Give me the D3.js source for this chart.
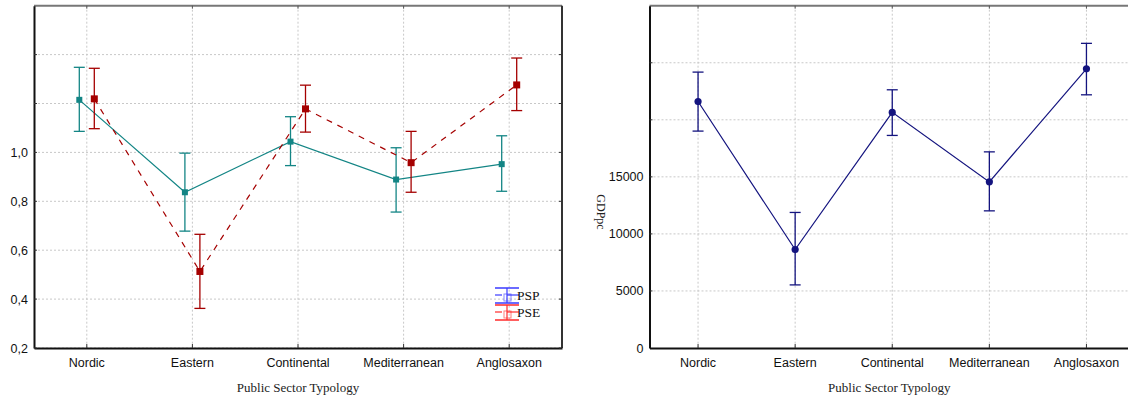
<!DOCTYPE html>
<html>
<head>
<meta charset="utf-8">
<script src="https://cdn.jsdelivr.net/npm/d3@7"></script>
<style>
  body { margin: 0; background: #fff; }
  svg { display: block; }
  .tick-lbl { font-family: "Liberation Sans", Arial, sans-serif; font-size: 12.5px; fill: #111; }
  .ax-title { font-family: "Liberation Serif", "Times New Roman", serif; font-size: 13px; fill: #222; }
</style>
</head>
<body>
<div id="chart"></div>
<script>
// categories
var typologies = ['Nordic', 'Eastern', 'Continental', 'Mediterranean', 'Anglosaxon']

// left chart: PSP and PSE means with confidence bounds
var psp_mean  = [1.215, 0.837, 1.044, 0.889, 0.952]
var psp_upper = [1.348, 0.997, 1.146, 1.019, 1.068]
var psp_lower = [1.086, 0.678, 0.946, 0.756, 0.841]

var pse_mean  = [1.219, 0.513, 1.178, 0.958, 1.276]
var pse_upper = [1.344, 0.665, 1.275, 1.086, 1.386]
var pse_lower = [1.097, 0.362, 1.083, 0.837, 1.171]

var left_ticks = [0.2, 0.4, 0.6, 0.8, 1.0]
var left_grid = [0.2, 0.4, 0.6, 0.8, 1.0, 1.2, 1.4]

// right chart: GDPpc
var gdp_mean  = [21600, 8630, 20650, 14560, 24470]
var gdp_upper = [24180, 11880, 22630, 17190, 26700]
var gdp_lower = [19010, 5530, 18630, 12020, 22190]

var right_ticks = [0, 5000, 10000, 15000]
var right_grid = [5000, 10000, 15000, 20000, 25000]

var colours = {
    teal: '#138585',
    red: '#a50000',
    navy: '#14147f',
    grid: '#c8c8c8',
    axis: '#111',
    frame: '#777'
}

var svg = d3.select('#chart').append('svg')
    .attr('width', 1128)
    .attr('height', 398)

function draw_panel(cfg) {
    var g = svg.append('g')

    var xScale = d3.scaleBand()
        .domain(typologies)
        .range([cfg.left, cfg.right])

    var yScale = d3.scaleLinear()
        .domain(cfg.yDomain)
        .range([cfg.bottom, cfg.top])

    var cx = function(i) { return xScale(typologies[i]) + xScale.bandwidth() / 2 }

    // grid lines
    g.selectAll('.hgrid')
        .data(cfg.grid)
        .enter().append('line')
        .attr('x1', cfg.left).attr('x2', cfg.right)
        .attr('y1', d => yScale(d)).attr('y2', d => yScale(d))
        .style('stroke', colours.grid)
        .style('stroke-dasharray', '2,2')

    g.selectAll('.vgrid')
        .data(typologies)
        .enter().append('line')
        .attr('x1', d => xScale(d) + xScale.bandwidth() / 2)
        .attr('x2', d => xScale(d) + xScale.bandwidth() / 2)
        .attr('y1', cfg.top).attr('y2', cfg.bottom)
        .style('stroke', colours.grid)
        .style('stroke-dasharray', '2,2')

    // frame
    g.append('line')
        .attr('x1', cfg.left).attr('x2', cfg.right)
        .attr('y1', cfg.top).attr('y2', cfg.top)
        .style('stroke', colours.frame).style('stroke-width', 2)
    g.append('line')
        .attr('x1', cfg.right).attr('x2', cfg.right)
        .attr('y1', cfg.top).attr('y2', cfg.bottom)
        .style('stroke', '#333').style('stroke-width', 2)

    // x axis (bottom) with ticks inside
    var xAxis = g.append('g')
        .attr('transform', 'translate(0,' + cfg.bottom + ')')
        .call(d3.axisBottom(xScale).tickSize(-4).tickSizeOuter(0).tickPadding(7))
    xAxis.select('.domain').style('stroke', colours.axis).style('stroke-width', 2)
    xAxis.selectAll('.tick line').style('stroke', '#333')
    xAxis.selectAll('.tick text').attr('class', 'tick-lbl').attr('dy', '0.95em')

    // top ticks
    g.append('g')
        .attr('transform', 'translate(0,' + cfg.top + ')')
        .call(d3.axisTop(xScale).tickSize(-3).tickSizeOuter(0).tickFormat(''))
        .call(s => s.select('.domain').remove())
        .selectAll('.tick line').style('stroke', '#555')

    // y axis left: labels only on the lower ticks
    var yAxis = g.append('g')
        .attr('transform', 'translate(' + cfg.left + ',0)')
        .call(d3.axisLeft(yScale).tickValues(cfg.ticks).tickSize(0).tickPadding(6).tickFormat(cfg.fmt))
    yAxis.select('.domain').style('stroke', colours.axis).style('stroke-width', 2)
    yAxis.selectAll('.tick text').attr('class', 'tick-lbl')

    // inner ticks on left and right
    g.selectAll('.ltick')
        .data(cfg.grid)
        .enter().append('line')
        .attr('x1', cfg.left).attr('x2', cfg.left + 3)
        .attr('y1', d => yScale(d)).attr('y2', d => yScale(d))
        .style('stroke', '#333')
    g.selectAll('.rtick')
        .data(cfg.grid)
        .enter().append('line')
        .attr('x1', cfg.right - 3).attr('x2', cfg.right)
        .attr('y1', d => yScale(d)).attr('y2', d => yScale(d))
        .style('stroke', '#333')

    // titles
    g.append('text')
        .attr('class', 'ax-title')
        .attr('x', (cfg.left + cfg.titleRight) / 2)
        .attr('y', 392)
        .attr('text-anchor', 'middle')
        .text('Public Sector Typology')

    if (cfg.yTitle) {
        g.append('text')
            .attr('class', 'ax-title')
            .style('font-size', '12px')
            .attr('transform', 'translate(' + cfg.yTitleX + ',' + cfg.yTitleY + ') rotate(90)')
            .attr('text-anchor', 'middle')
            .text(cfg.yTitle)
    }

    // series
    cfg.series.forEach(function(s) {
        var pts = s.mean.map(function(v, i) {
            return { x: cx(i) + s.offset, y: yScale(v), hi: yScale(s.upper[i]), lo: yScale(s.lower[i]) }
        })

        g.append('path')
            .datum(pts)
            .attr('d', d3.line().x(d => d.x).y(d => d.y))
            .style('fill', 'none')
            .style('stroke', s.colour)
            .style('stroke-width', 1.2)
            .style('stroke-dasharray', s.dash || null)

        var eb = g.selectAll(null).data(pts).enter().append('g')
        eb.append('line')
            .attr('x1', d => d.x).attr('x2', d => d.x)
            .attr('y1', d => d.hi).attr('y2', d => d.lo)
            .style('stroke', s.colour).style('stroke-width', 1.3)
        eb.append('line')
            .attr('x1', d => d.x - 5.5).attr('x2', d => d.x + 5.5)
            .attr('y1', d => d.hi).attr('y2', d => d.hi)
            .style('stroke', s.colour).style('stroke-width', 1.3)
        eb.append('line')
            .attr('x1', d => d.x - 5.5).attr('x2', d => d.x + 5.5)
            .attr('y1', d => d.lo).attr('y2', d => d.lo)
            .style('stroke', s.colour).style('stroke-width', 1.3)

        if (s.marker === 'circle') {
            eb.append('circle')
                .attr('cx', d => d.x).attr('cy', d => d.y)
                .attr('r', 3.6)
                .style('fill', s.colour)
        } else {
            eb.append('rect')
                .attr('x', d => d.x - s.size / 2).attr('y', d => d.y - s.size / 2)
                .attr('width', s.size).attr('height', s.size)
                .style('fill', s.colour)
        }
    })

    return { x: xScale, y: yScale }
}

var fmt_comma = function(d) { return d3.format('.1f')(d).replace('.', ',') }

draw_panel({
    left: 34, right: 562, top: 5.7, bottom: 348, titleRight: 562,
    yDomain: [0.2, 1.6],
    ticks: left_ticks, grid: left_grid, fmt: fmt_comma,
    series: [
        { mean: psp_mean, upper: psp_upper, lower: psp_lower, colour: colours.teal, offset: -7.5, size: 6 },
        { mean: pse_mean, upper: pse_upper, lower: pse_lower, colour: colours.red, offset: 7.5, size: 7, dash: '6,6' }
    ]
})

draw_panel({
    left: 649.5, right: 1135, top: 5.7, bottom: 348, titleRight: 1129,
    yDomain: [0, 30000],
    ticks: right_ticks, grid: right_grid, fmt: d3.format('d'),
    yTitle: 'GDPpc', yTitleX: 597, yTitleY: 212,
    series: [
        { mean: gdp_mean, upper: gdp_upper, lower: gdp_lower, colour: colours.navy, offset: 0, marker: 'circle' }
    ]
})

// legend (left chart)
var legend_items = [
    { label: 'PSP', colour: '#3a3aff', y: 296 },
    { label: 'PSE', colour: '#ff2a2a', y: 313 }
]

var legend = svg.append('g')
legend_items.forEach(function(it) {
    var lg = legend.append('g').attr('transform', 'translate(495,' + it.y + ')')
    lg.append('line').attr('x1', 0).attr('x2', 24).attr('y1', -8).attr('y2', -8)
        .style('stroke', it.colour).style('stroke-width', 1.5)
    lg.append('line').attr('x1', 0).attr('x2', 24).attr('y1', 7).attr('y2', 7)
        .style('stroke', it.colour).style('stroke-width', 1.5)
    lg.append('line').attr('x1', 0).attr('x2', 7).attr('y1', -1).attr('y2', -1)
        .style('stroke', it.colour).style('stroke-width', 1.2)
    lg.append('line').attr('x1', 12).attr('x2', 24).attr('y1', -1).attr('y2', -1)
        .style('stroke', it.colour).style('stroke-width', 1.2)
    lg.append('line').attr('x1', 12).attr('x2', 12).attr('y1', -8).attr('y2', 7)
        .style('stroke', it.colour).style('stroke-width', 1.2)
    lg.append('rect').attr('x', 9).attr('y', -2).attr('width', 7).attr('height', 7)
        .style('fill', 'none').style('stroke', it.colour).style('stroke-opacity', 0.6)
    lg.append('text')
        .attr('class', 'ax-title')
        .attr('x', 22).attr('y', 4)
        .style('font-size', '13.5px')
        .style('fill', '#111')
        .text(it.label)
})
</script>
</body>
</html>
